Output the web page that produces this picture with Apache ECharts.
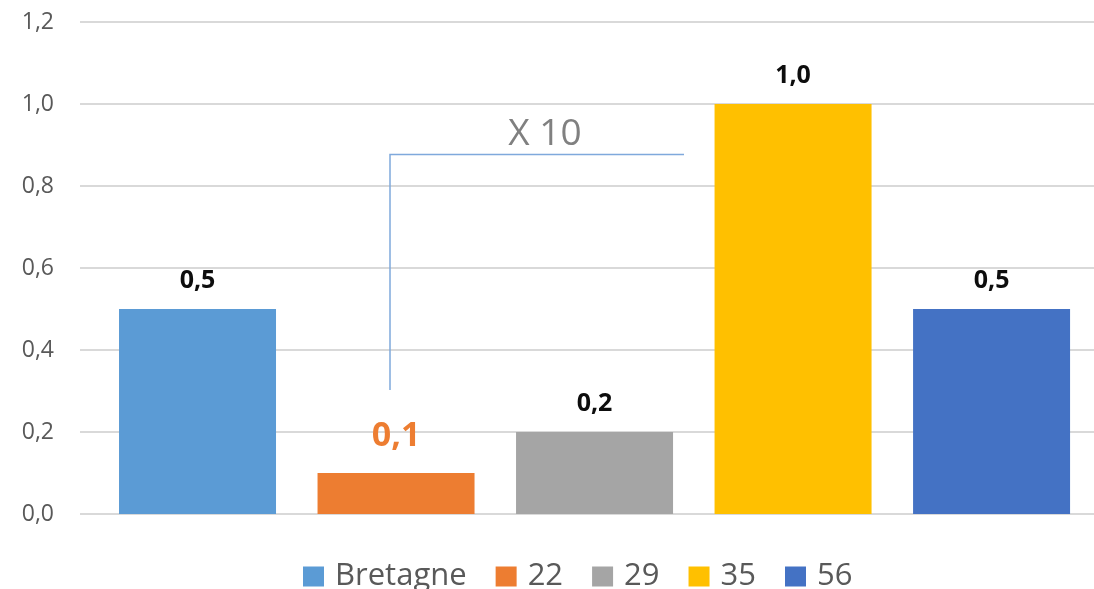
<!DOCTYPE html>
<html><head><meta charset="utf-8">
<script src="https://cdn.jsdelivr.net/npm/echarts@6/dist/echarts.min.js"></script>
<style>html,body{margin:0;padding:0;background:#fff}#c{width:1094px;height:589px}</style>
</head><body><div id="c"></div>
<script>
const seriesNames = ['Bretagne', '22', '29', '35', '56'];
const seriesValues = [0.5, 0.1, 0.2, 1.0, 0.5];
const seriesColors = ['#5b9bd5', '#ed7d31', '#a5a5a5', '#ffc000', '#4472c4'];
const yTicks = [0, 0.2, 0.4, 0.6, 0.8, 1.0, 1.2];
const annotationText = 'X 10';

const fmt = v => v.toFixed(1).replace('.', ',');
const FONT = 'Open Sans';

const chart = echarts.init(document.getElementById('c'), null, {renderer: 'canvas'});
const series = seriesNames.map((n, i) => ({
  name: n,
  type: 'bar',
  data: [[i, seriesValues[i]]],
  barWidth: 157,
  barGap: '-100%',
  itemStyle: {color: seriesColors[i]},
  label: {
    show: true,
    position: 'top',
    distance: i === 1 ? 20 : 16,
    formatter: p => fmt(p.value[1]),
    fontFamily: FONT,
    fontWeight: 'bold',
    fontSize: i === 1 ? 34 : 25,
    color: i === 1 ? '#ed7d31' : '#0d0d0d'
  }
}));

chart.setOption({
  animation: false,
  textStyle: {fontFamily: FONT},
  grid: {left: 80, right: 0, top: 22, bottom: 75},
  legend: {
    top: 561,
    left: 303,
    padding: 0,
    itemWidth: 21,
    itemHeight: 20,
    itemGap: 29,
    icon: 'rect',
    textStyle: {fontFamily: FONT, fontSize: 31, color: '#595959', padding: [0, 0, 0, 6]},
    data: seriesNames
  },
  xAxis: {
    type: 'value',
    min: -0.592,
    max: 4.516,
    show: false,
    splitLine: {show: false}
  },
  yAxis: {
    type: 'value',
    min: yTicks[0],
    max: yTicks[yTicks.length - 1],
    interval: 0.2,
    axisLine: {show: false},
    axisTick: {show: false},
    axisLabel: {
      formatter: v => fmt(v),
      fontFamily: FONT,
      fontSize: 23,
      color: '#595959',
      margin: 26
    },
    splitLine: {lineStyle: {color: '#d9d9d9', width: 2}}
  },
  series: series,
  graphic: [
    {
      type: 'polyline',
      shape: {points: [[390, 390], [390, 154.5], [684, 154.5]]},
      style: {stroke: '#7fa9dc', lineWidth: 1.5, fill: null},
      z: 10
    },
    {
      type: 'text',
      x: 545, y: 134,
      style: {
        text: annotationText,
        font: '37px "Open Sans"',
        fill: '#808080',
        textAlign: 'center',
        textVerticalAlign: 'middle'
      },
      z: 10
    }
  ]
});
</script></body></html>
